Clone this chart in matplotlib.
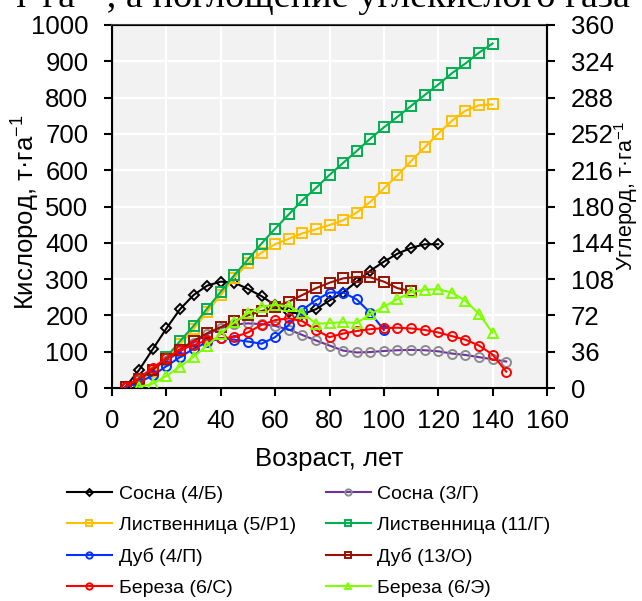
# -*- coding: utf-8 -*-
"""
Динамика депонирования кислорода и углерода древостоями по возрасту.
Левая ось — кислород, правая — углерод (т·га⁻¹).
"""
import matplotlib
matplotlib.use("Agg")
import matplotlib.pyplot as plt

plt.rcParams["font.family"] = ["Liberation Sans", "DejaVu Sans"]
plt.rcParams["mathtext.fontset"] = "custom"
plt.rcParams["mathtext.rm"] = "Liberation Sans"
plt.rcParams["mathtext.it"] = "Liberation Sans"

# ---- данные, шаг возраста 5 лет ----
AGES = [5, 10, 15, 20, 25, 30, 35, 40, 45, 50, 55, 60, 65, 70, 75,
        80, 85, 90, 95, 100, 105, 110, 115, 120, 125, 130, 135, 140, 145]

sosna_4b = [3, 50, 107, 164, 217, 256, 282, 293, 290, 273, 253, 228,
            210, 203, 217, 241, 263, 293, 323, 348, 370, 386, 396, 396]
sosna_3g = [3, 25, 50, 75, 100, 125, 148, 165, 175, 178, 176, 171, 161,
            146, 131, 117, 103, 98, 99, 102, 104, 105, 104, 101, 95, 91,
            85, 79, 73]
list_5r1 = [3, 20, 45, 80, 120, 162, 210, 256, 304, 343, 373, 396, 411,
            426, 437, 449, 462, 483, 513, 550, 586, 625, 663, 701, 736,
            764, 779, 781]
list_11g = [3, 20, 50, 85, 129, 171, 219, 265, 311, 354, 398, 439, 478,
            517, 551, 587, 620, 653, 687, 718, 747, 777, 807, 836, 867,
            894, 924, 949]
dub_4p = [2, 15, 35, 60, 85, 108, 126, 137, 133, 128, 122, 140, 174,
          215, 242, 263, 263, 244, 207, 160]
dub_13o = [4, 25, 50, 80, 106, 130, 151, 168, 184, 200, 212, 223, 238,
           256, 275, 290, 302, 306, 305, 293, 275, 267]
ber_6s = [4, 28, 56, 82, 105, 118, 132, 137, 140, 153, 174, 187, 192,
          184, 160, 140, 150, 157, 162, 165, 166, 164, 160, 153, 143,
          133, 117, 92, 45]
ber_6e = [3, 12, 33, 59, 86, 117, 150, 181, 206, 224, 229, 225, 207, 177,
          179, 181, 179, 203, 224, 245, 264, 271, 272, 263, 240, 204, 152]

# (подпись, значения, индекс первого возраста, цвет линии, маркер, цвет маркера)
SERIES = [
    ("Сосна (4/Б)", sosna_4b, 0, "#000000", "D", "#000000"),
    ("Сосна (3/Г)", sosna_3g, 0, "#7030A0", "o", "#8C8C8C"),
    ("Лиственница (5/Р1)", list_5r1, 0, "#FFC000", "s", "#FFC000"),
    ("Лиственница (11/Г)", list_11g, 0, "#00B050", "s", "#00B050"),
    ("Дуб (4/П)", dub_4p, 0, "#0033FF", "o", "#0033FF"),
    ("Дуб (13/О)", dub_13o, 0, "#991100", "s", "#991100"),
    ("Береза (6/С)", ber_6s, 0, "#FF0000", "o", "#FF0000"),
    ("Береза (6/Э)", ber_6e, 1, "#80FF00", "^", "#80FF00"),
]

MSIZE = {"D": 5.0, "o": 6.5, "s": 6.5, "^": 7.0}

fig = plt.figure(figsize=(6.42, 6.01), dpi=100)
ax = fig.add_axes([112 / 642, 1 - 388 / 601, 435 / 642, 363 / 601])
ax.set_facecolor("#F2F2F2")

handles = {}
for i, (name, vals, start, lc, mk, mc) in enumerate(SERIES):
    x = AGES[start:start + len(vals)]
    h, = ax.plot(x, vals, color=lc, lw=1.5, marker=mk, ms=MSIZE[mk],
                 mfc="none", mec=mc, mew=1.4, label=name, zorder=3 + i)
    handles[name] = h

ax.set_xlim(0, 160)
ax.set_ylim(0, 1000)
ax.set_xticks(range(0, 161, 20))
ax.set_yticks(range(0, 1001, 100))
ax.grid(True, color="white", lw=1.6)
ax.set_axisbelow(True)
ax.tick_params(direction="out", length=6, width=1.5, labelsize=18.5)
ax.tick_params(axis="y", pad=11)
ax.tick_params(axis="x", pad=9)
for s in ax.spines.values():
    s.set_linewidth(1.5)
ax.spines["top"].set_color("#444444")
ax.set_xlabel("Возраст, лет", fontsize=18.5)
ax.xaxis.set_label_coords(0.5, -0.163)
ax.set_ylabel("Кислород, т·га$^{-1}$", fontsize=18.5)
ax.yaxis.set_label_coords(-0.16, 0.485)

ax2 = ax.twinx()
ax2.set_ylim(0, 360)
ax2.set_yticks(range(0, 361, 36))
ax2.tick_params(direction="out", length=6, width=1.5, labelsize=18.5, pad=11)
ax2.spines["right"].set_linewidth(1.5)
ax2.set_ylabel("Углерод, т·га$^{-1}$", fontsize=15.5)
ax2.yaxis.set_label_coords(1.15, 0.53)

# обрезанная строка текста документа сверху
fig.text(630 / 642, 1 - 7 / 601, "т·га⁻¹, а поглощение углекислого газа",
         family=["Liberation Serif", "DejaVu Serif"], fontsize=27.5,
         ha="right", va="baseline")

order = ["Сосна (4/Б)", "Лиственница (5/Р1)", "Дуб (4/П)", "Береза (6/С)",
         "Сосна (3/Г)", "Лиственница (11/Г)", "Дуб (13/О)", "Береза (6/Э)"]
fig.legend([handles[n] for n in order], order, ncol=2, frameon=False,
           loc="upper left", bbox_to_anchor=(67 / 642, 1 - 485 / 601),
           fontsize=14, borderpad=0, borderaxespad=0, handlelength=2.3,
           handletextpad=0.35, columnspacing=1.55, labelspacing=0.7,
           markerscale=0.7)

fig.savefig("out.png", dpi=100)
